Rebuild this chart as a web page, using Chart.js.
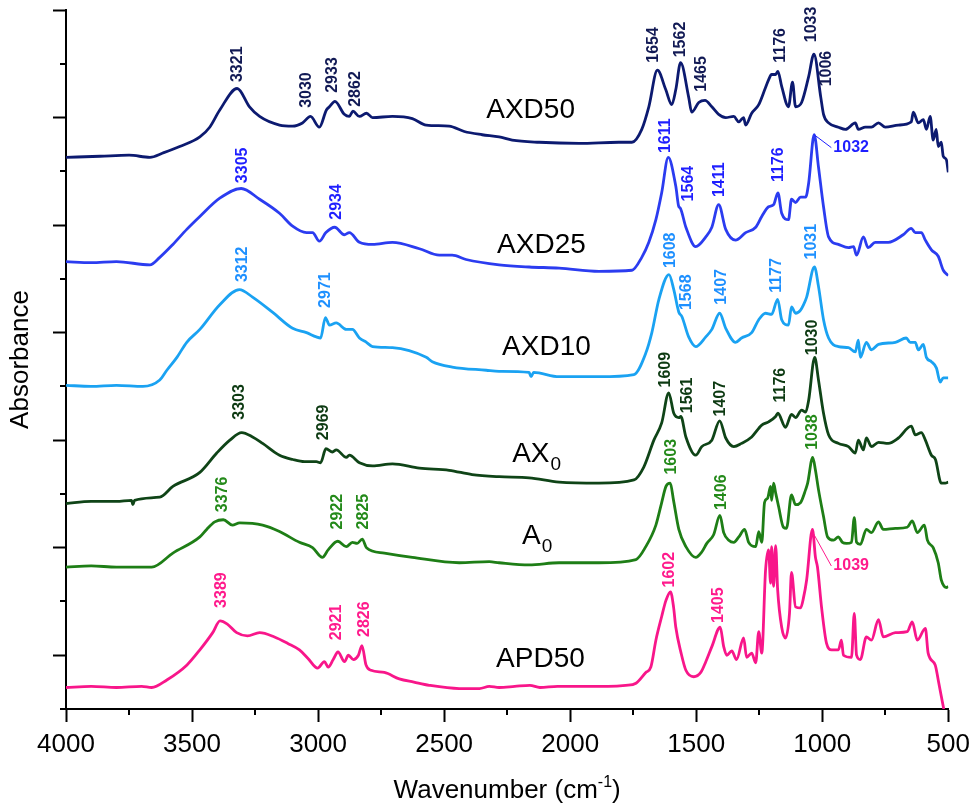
<!DOCTYPE html>
<html>
<head>
<meta charset="utf-8">
<script src="https://cdn.jsdelivr.net/npm/chart.js@4.4.1/dist/chart.umd.min.js"></script>
<style>
  html, body { margin: 0; padding: 0; background: #fff; }
  #wrap { width: 977px; height: 804px; position: relative; }
</style>
</head>
<body>
<div id="wrap"><canvas id="ftir"></canvas></div>
<script>
// Espectros FTIR apilados: [numero de onda (cm-1), absorbancia con desplazamiento]
const axd50 = [[4000,5.13],[3865,5.14],[3750,5.15],[3667,5.13],[3616,5.17],[3549,5.23],[3469,5.32],[3430,5.41],[3390,5.57],[3321,5.77],[3272,5.60],[3232,5.51],[3153,5.43],[3101,5.42],[3062,5.45],[3030,5.51],[2995,5.41],[2967,5.57],[2955,5.60],[2933,5.65],[2896,5.53],[2876,5.51],[2862,5.56],[2836,5.51],[2808,5.54],[2784,5.50],[2705,5.51],[2626,5.49],[2571,5.43],[2480,5.42],[2420,5.37],[2349,5.34],[2282,5.32],[2230,5.29],[2123,5.27],[1965,5.26],[1807,5.27],[1755,5.27],[1716,5.39],[1688,5.60],[1654,5.94],[1621,5.76],[1597,5.62],[1581,5.76],[1562,6.01],[1530,5.69],[1518,5.55],[1490,5.64],[1465,5.66],[1438,5.60],[1411,5.53],[1383,5.50],[1351,5.51],[1331,5.46],[1312,5.50],[1304,5.43],[1280,5.54],[1252,5.62],[1225,5.78],[1213,5.85],[1201,5.90],[1185,5.90],[1176,5.93],[1161,5.79],[1134,5.60],[1118,5.83],[1106,5.60],[1082,5.64],[1054,5.88],[1033,6.09],[1006,5.69],[995,5.53],[975,5.45],[936,5.41],[908,5.39],[869,5.45],[857,5.39],[829,5.41],[805,5.41],[777,5.45],[750,5.41],[698,5.43],[647,5.46],[639,5.55],[619,5.45],[599,5.48],[587,5.39],[572,5.51],[560,5.29],[548,5.39],[540,5.23],[528,5.27],[520,5.14],[508,5.11],[500,4.99]];
const axd25 = [[4000,4.16],[3900,4.15],[3800,4.16],[3667,4.13],[3628,4.20],[3576,4.32],[3521,4.46],[3469,4.58],[3390,4.75],[3305,4.84],[3232,4.74],[3153,4.61],[3101,4.49],[3046,4.43],[3022,4.43],[2995,4.35],[2969,4.43],[2934,4.48],[2896,4.41],[2876,4.43],[2836,4.34],[2784,4.32],[2705,4.34],[2598,4.28],[2519,4.22],[2468,4.22],[2413,4.18],[2282,4.13],[2163,4.11],[2044,4.10],[1886,4.07],[1755,4.08],[1716,4.20],[1688,4.34],[1660,4.55],[1637,4.80],[1611,5.13],[1581,4.86],[1569,4.67],[1564,4.66],[1541,4.48],[1502,4.30],[1462,4.39],[1438,4.48],[1411,4.69],[1383,4.46],[1344,4.36],[1304,4.43],[1264,4.48],[1240,4.58],[1213,4.67],[1193,4.69],[1176,4.80],[1161,4.61],[1134,4.55],[1122,4.74],[1106,4.71],[1086,4.76],[1066,4.76],[1054,4.89],[1032,5.34],[1015,5.04],[995,4.67],[975,4.39],[936,4.32],[896,4.29],[876,4.30],[864,4.22],[837,4.39],[818,4.29],[790,4.34],[738,4.34],[679,4.41],[647,4.47],[631,4.43],[607,4.43],[591,4.36],[567,4.27],[540,4.21],[520,4.08],[500,4.03]];
const axd10 = [[4000,3.01],[3900,3.00],[3800,3.01],[3695,3.00],[3628,3.06],[3600,3.15],[3560,3.27],[3521,3.41],[3469,3.53],[3390,3.76],[3312,3.90],[3260,3.83],[3181,3.69],[3101,3.54],[3046,3.50],[3007,3.46],[2990,3.45],[2971,3.64],[2955,3.57],[2928,3.59],[2888,3.53],[2864,3.53],[2836,3.45],[2808,3.41],[2784,3.37],[2705,3.36],[2571,3.27],[2547,3.23],[2468,3.18],[2333,3.15],[2282,3.14],[2163,3.13],[2155,3.09],[2145,3.13],[2044,3.09],[1886,3.09],[1747,3.11],[1700,3.31],[1676,3.50],[1648,3.81],[1608,4.04],[1589,3.90],[1569,3.69],[1557,3.65],[1530,3.46],[1502,3.37],[1462,3.46],[1438,3.53],[1407,3.68],[1383,3.54],[1344,3.41],[1320,3.45],[1280,3.50],[1252,3.62],[1225,3.68],[1201,3.67],[1177,3.81],[1161,3.62],[1134,3.57],[1122,3.74],[1106,3.68],[1086,3.71],[1074,3.76],[1062,3.83],[1031,4.11],[1015,3.93],[995,3.62],[975,3.45],[936,3.37],[896,3.36],[869,3.32],[857,3.43],[849,3.27],[825,3.41],[805,3.34],[777,3.39],[710,3.41],[667,3.45],[651,3.41],[631,3.41],[619,3.34],[599,3.39],[587,3.27],[567,3.23],[547,3.17],[532,3.04],[520,3.08],[500,3.08]];
const ax0 = [[4000,1.91],[3900,1.93],[3800,1.93],[3740,1.94],[3735,1.90],[3728,1.94],[3628,1.97],[3576,2.07],[3469,2.20],[3402,2.38],[3350,2.50],[3303,2.57],[3260,2.53],[3220,2.47],[3153,2.36],[3100,2.32],[3054,2.30],[3007,2.30],[2990,2.29],[2969,2.42],[2943,2.39],[2928,2.41],[2888,2.34],[2876,2.36],[2836,2.29],[2784,2.26],[2705,2.28],[2598,2.24],[2480,2.22],[2389,2.18],[2282,2.16],[2163,2.15],[2044,2.11],[1886,2.10],[1747,2.13],[1708,2.25],[1668,2.50],[1637,2.66],[1609,2.94],[1589,2.75],[1569,2.71],[1561,2.72],[1541,2.53],[1502,2.36],[1478,2.44],[1438,2.50],[1407,2.68],[1383,2.52],[1351,2.44],[1320,2.47],[1280,2.53],[1240,2.64],[1213,2.67],[1185,2.72],[1176,2.75],[1146,2.62],[1122,2.74],[1106,2.71],[1082,2.78],[1066,2.76],[1054,2.87],[1030,3.27],[1015,3.06],[995,2.75],[975,2.55],[936,2.47],[896,2.44],[869,2.38],[857,2.50],[837,2.41],[825,2.52],[805,2.44],[777,2.48],[738,2.47],[698,2.52],[647,2.63],[631,2.55],[607,2.57],[591,2.50],[567,2.36],[551,2.32],[528,2.10],[512,2.10],[500,2.11]];
const a0 = [[4000,1.32],[3900,1.33],[3800,1.32],[3700,1.32],[3660,1.32],[3576,1.45],[3469,1.60],[3442,1.67],[3410,1.74],[3376,1.76],[3340,1.71],[3311,1.73],[3220,1.71],[3153,1.65],[3074,1.55],[3022,1.50],[2983,1.41],[2960,1.48],[2922,1.56],[2888,1.51],[2864,1.55],[2845,1.54],[2825,1.58],[2808,1.50],[2737,1.45],[2626,1.41],[2440,1.36],[2321,1.37],[2282,1.36],[2163,1.34],[2044,1.36],[1886,1.36],[1739,1.39],[1700,1.51],[1660,1.71],[1637,1.92],[1620,2.07],[1603,2.10],[1590,1.94],[1569,1.67],[1541,1.51],[1502,1.41],[1478,1.46],[1458,1.54],[1431,1.62],[1406,1.80],[1391,1.64],[1371,1.57],[1351,1.55],[1331,1.60],[1308,1.67],[1292,1.55],[1264,1.51],[1252,1.65],[1240,1.55],[1229,1.92],[1217,1.96],[1205,2.07],[1201,1.94],[1193,2.10],[1185,2.01],[1173,1.88],[1154,1.69],[1142,1.68],[1122,1.99],[1106,1.90],[1086,1.92],[1066,2.04],[1058,2.10],[1038,2.34],[1027,2.22],[1015,2.04],[995,1.79],[979,1.60],[955,1.57],[936,1.60],[920,1.55],[904,1.54],[884,1.55],[873,1.78],[864,1.55],[849,1.53],[825,1.67],[805,1.64],[777,1.74],[758,1.67],[710,1.68],[663,1.69],[643,1.75],[623,1.64],[595,1.71],[583,1.57],[560,1.50],[540,1.36],[528,1.20],[516,1.14],[506,1.13],[500,1.14]];
const apd50 = [[4000,0.20],[3900,0.21],[3800,0.20],[3700,0.21],[3660,0.20],[3600,0.27],[3520,0.41],[3469,0.55],[3418,0.71],[3389,0.82],[3360,0.79],[3323,0.71],[3280,0.68],[3232,0.71],[3173,0.67],[3120,0.61],[3074,0.55],[3040,0.47],[3002,0.38],[2975,0.44],[2960,0.39],[2940,0.46],[2921,0.53],[2895,0.44],[2880,0.50],[2860,0.46],[2840,0.50],[2826,0.59],[2810,0.41],[2790,0.36],[2737,0.34],[2678,0.28],[2620,0.25],[2559,0.22],[2440,0.19],[2360,0.19],[2321,0.21],[2282,0.20],[2220,0.21],[2160,0.22],[2120,0.20],[2050,0.21],[1950,0.21],[1850,0.21],[1780,0.22],[1739,0.24],[1700,0.34],[1680,0.39],[1660,0.64],[1637,0.86],[1620,1.01],[1602,1.09],[1590,0.95],[1581,0.76],[1560,0.52],[1541,0.36],[1510,0.30],[1482,0.34],[1462,0.44],[1438,0.58],[1405,0.76],[1391,0.58],[1379,0.50],[1359,0.54],[1340,0.46],[1312,0.66],[1300,0.48],[1280,0.52],[1264,0.43],[1252,0.72],[1240,0.52],[1225,1.29],[1213,1.48],[1205,1.17],[1201,1.51],[1193,1.14],[1185,1.52],[1177,1.11],[1161,0.76],[1146,0.66],[1130,0.89],[1122,1.27],[1106,0.95],[1086,0.94],[1074,1.04],[1062,1.20],[1039,1.67],[1027,1.41],[1019,1.32],[1003,0.95],[983,0.61],[963,0.55],[936,0.55],[924,0.64],[916,0.50],[884,0.48],[873,0.89],[864,0.50],[849,0.46],[825,0.67],[805,0.64],[777,0.83],[758,0.67],[710,0.71],[663,0.72],[643,0.81],[623,0.64],[591,0.75],[580,0.52],[552,0.41],[540,0.27],[528,0.12],[518,0.00]];

const seriesNames = ['AXD50', 'AXD25', 'AXD10', 'AX0', 'A0', 'APD50'];
const seriesData = [axd50, axd25, axd10, ax0, a0, apd50];
const lineColors = ['#0c1a70', '#2b3cf0', '#1aa2f2', '#0f4417', '#1e7e16', '#f8168a'];
const peakColors = ['#121a55', '#1f1fff', '#1e90ff', '#0d3a12', '#248a1a', '#ff1a8c'];

// Etiquetas de picos: [serie, texto, numero de onda, absorbancia donde empieza el texto]
const peakLabels = [
  [0,'3321',3321,5.83],[0,'3030',3046,5.59],[0,'2933',2943,5.73],[0,'2862',2852,5.60],
  [0,'1654',1668,6.01],[0,'1562',1561,6.06],[0,'1465',1478,5.74],[0,'1176',1165,6.01],
  [0,'1033',1043,6.20],[0,'1006',983,5.79],
  [1,'3305',3300,4.89],[1,'2934',2927,4.55],[1,'1611',1621,5.17],[1,'1564',1530,4.72],
  [1,'1411',1407,4.76],[1,'1176',1173,4.90],
  [2,'3312',3300,3.97],[2,'2971',2971,3.73],[2,'1608',1601,4.10],[2,'1568',1538,3.71],
  [2,'1407',1399,3.76],[2,'1177',1181,3.87],[2,'1031',1043,4.18],
  [3,'3303',3311,2.69],[3,'2969',2979,2.50],[3,'1609',1621,2.99],[3,'1561',1534,2.75],
  [3,'1407',1403,2.72],[3,'1176',1165,2.85],[3,'1030',1039,3.29],
  [4,'3376',3378,1.83],[4,'2922',2923,1.67],[4,'2825',2820,1.67],[4,'1603',1597,2.18],
  [4,'1406',1399,1.85],[4,'1038',1039,2.41],
  [5,'3389',3382,0.94],[5,'2921',2927,0.64],[5,'2826',2816,0.67],[5,'1602',1605,1.13],
  [5,'1405',1411,0.80]
];
// Etiquetas horizontales con linea guia: [serie, texto, pico wn, pico abs, texto wn, texto abs]
const calloutLabels = [
  [1,'1032',1032,5.34,956,5.22],
  [5,'1039',1037,1.64,956,1.33]
];
// Nombres de las muestras: [texto, subindice, wn borde izquierdo, abs linea base]
const sampleLabels = [
  ['AXD50','',2333,5.50],['AXD25','',2290,4.24],['AXD10','',2270,3.29],
  ['AX','0',2230,2.30],['A','0',2191,1.53],['APD50','',2294,0.39]
];

const xMajorTicks = [4000,3500,3000,2500,2000,1500,1000,500];
const xMinorTicks = [3750,3250,2750,2250,1750,1250,750];
const yMajorTicks = [0.5,1.5,2.5,3.5,4.5,5.5,6.5];
const yMinorTicks = [0,1,2,3,4,5,6];

const FONT = '"Liberation Sans", Arial, sans-serif';

// Plugin para textos, subindices y marcas menores
const annotations = {
  id: 'annotations',
  afterDraw(chart) {
    const ctx = chart.ctx;
    const xs = chart.scales.x, ys = chart.scales.y;
    const area = chart.chartArea;
    ctx.save();

    // marcas menores
    ctx.strokeStyle = '#000';
    ctx.lineWidth = 2;
    xMinorTicks.forEach(v => {
      const px = Math.round(xs.getPixelForValue(v));
      ctx.beginPath(); ctx.moveTo(px, area.bottom); ctx.lineTo(px, area.bottom + 6); ctx.stroke();
    });
    yMinorTicks.forEach(v => {
      const py = Math.round(ys.getPixelForValue(v));
      ctx.beginPath(); ctx.moveTo(area.left - 6, py); ctx.lineTo(area.left, py); ctx.stroke();
    });

    // etiquetas de picos giradas
    ctx.font = 'bold 16px ' + FONT;
    ctx.textAlign = 'left';
    ctx.textBaseline = 'middle';
    peakLabels.forEach(([s, txt, wn, at]) => {
      ctx.save();
      ctx.translate(xs.getPixelForValue(wn), ys.getPixelForValue(at));
      ctx.rotate(-Math.PI / 2);
      ctx.fillStyle = peakColors[s];
      ctx.fillText(txt, 0, 0);
      ctx.restore();
    });

    // etiquetas con linea guia
    calloutLabels.forEach(([s, txt, pw, pa, tw, ta]) => {
      const x1 = xs.getPixelForValue(pw), y1 = ys.getPixelForValue(pa);
      const x2 = xs.getPixelForValue(tw), y2 = ys.getPixelForValue(ta);
      ctx.strokeStyle = peakColors[s];
      ctx.lineWidth = 1;
      ctx.beginPath(); ctx.moveTo(x1, y1); ctx.lineTo(x2 - 2, y2); ctx.stroke();
      ctx.fillStyle = peakColors[s];
      ctx.fillText(txt, x2, y2);
    });

    // nombres de las muestras
    ctx.fillStyle = '#000';
    ctx.textBaseline = 'alphabetic';
    sampleLabels.forEach(([txt, sub, wn, at]) => {
      const x = xs.getPixelForValue(wn), y = ys.getPixelForValue(at);
      ctx.font = '28px ' + FONT;
      ctx.fillText(txt, x, y);
      if (sub) {
        const w = ctx.measureText(txt).width;
        ctx.font = '19px ' + FONT;
        ctx.fillText(sub, x + w + 1, y + 8);
      }
    });

    // titulo eje Y
    ctx.save();
    ctx.translate(21, (area.top + area.bottom) / 2);
    ctx.rotate(-Math.PI / 2);
    ctx.font = '26px ' + FONT;
    ctx.textAlign = 'center';
    ctx.textBaseline = 'middle';
    ctx.fillText('Absorbance', 0, 0);
    ctx.restore();

    // titulo eje X con superindice
    ctx.font = '26px ' + FONT;
    const main = 'Wavenumber (cm';
    const wMain = ctx.measureText(main).width;
    const wClose = ctx.measureText(')').width;
    ctx.font = '16px ' + FONT;
    const wSup = ctx.measureText('-1').width;
    const total = wMain + wSup + wClose;
    const cx = (area.left + area.right) / 2;
    const x0 = cx - total / 2;
    const base = 798;
    ctx.textAlign = 'left';
    ctx.font = '26px ' + FONT;
    ctx.fillText(main, x0, base);
    ctx.font = '16px ' + FONT;
    ctx.fillText('-1', x0 + wMain, base - 11);
    ctx.font = '26px ' + FONT;
    ctx.fillText(')', x0 + wMain + wSup, base);
    ctx.restore();
  }
};

const ctx = document.getElementById('ftir').getContext('2d');
const chart = new Chart(ctx, {
  type: 'line',
  data: {
    datasets: seriesData.map((pts, i) => ({
      label: seriesNames[i],
      data: pts.map(p => ({ x: p[0], y: p[1] })),
      borderColor: lineColors[i],
      backgroundColor: lineColors[i],
      borderWidth: 2.8,
      pointRadius: 0,
      cubicInterpolationMode: 'monotone',
      fill: false
    }))
  },
  options: {
    responsive: true,
    maintainAspectRatio: false,
    animation: false,
    devicePixelRatio: 1,
    layout: { padding: { top: 10, right: 27, left: 0, bottom: 0 } },
    plugins: { legend: { display: false }, tooltip: { enabled: false } },
    scales: {
      x: {
        type: 'linear',
        min: 500,
        max: 4000,
        reverse: true,
        afterBuildTicks: s => { s.ticks = xMajorTicks.map(v => ({ value: v })); },
        afterFit: s => { s.height = 95; },
        ticks: {
          color: '#000',
          font: { family: FONT, size: 26 },
          padding: 7,
          maxRotation: 0,
          autoSkip: false,
          callback: v => String(v)
        },
        grid: { drawOnChartArea: false, drawTicks: true, tickLength: 13, tickWidth: 2, tickColor: '#000' },
        border: { display: true, color: '#000', width: 2 }
      },
      y: {
        type: 'linear',
        min: 0,
        max: 6.5,
        afterBuildTicks: s => { s.ticks = yMajorTicks.map(v => ({ value: v })); },
        afterFit: s => { s.width = 66; },
        ticks: { display: false },
        grid: { drawOnChartArea: false, drawTicks: true, tickLength: 13, tickWidth: 2, tickColor: '#000' },
        border: { display: true, color: '#000', width: 2 }
      }
    }
  },
  plugins: [annotations]
});
</script>
</body>
</html>
